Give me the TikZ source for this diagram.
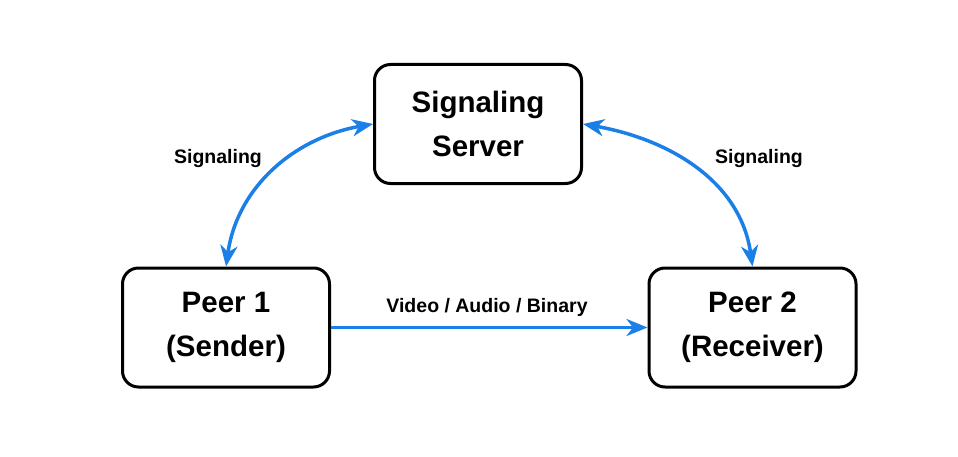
\documentclass[tikz,border=0pt]{standalone}
\usepackage{fontspec}
\setmainfont{Liberation Sans}
\usepackage{xcolor}
\usepackage{tikz}
\usetikzlibrary{arrows.meta,positioning}
\definecolor{linkblue}{HTML}{1A7FE6}
\tikzset{tip/.tip={Stealth[length=21pt,width=17pt,inset=6.5pt]}}
\begin{document}
\begin{tikzpicture}[x=1pt,y=1pt,
  box/.style={draw,line width=3pt,rounded corners=16pt,minimum width=207pt,minimum height=119pt,
    align=center,font=\fontsize{29.5}{44}\selectfont\bfseries},
  link/.style={linkblue,line width=3.5pt,-tip},
  lbl/.style={font=\fontsize{19.5}{23}\selectfont\bfseries}]
\useasboundingbox(0,0)rectangle(958,456);
\node[box](server)at(478,332){Signaling\\Server};
\node[box](peer1)at(226,128.5){Peer 1\\(Sender)};
\node[box](peer2)at(752.5,128.5){Peer 2\\(Receiver)};
\draw[link,tip-tip](server.west)to[out=190,in=82](peer1.north);
\draw[link,tip-tip](server.east)to[out=-10,in=98](peer2.north);
\draw[link](peer1.east)--(peer2.west);
\node[lbl](sigL)at(218,297.5){Signaling};
\node[lbl](sigR)at(759,297.5){Signaling};
\node[lbl](media)at(487,148.5){Video / Audio / Binary};
\end{tikzpicture}
\end{document}
